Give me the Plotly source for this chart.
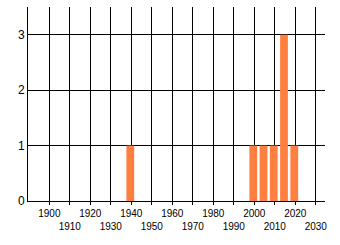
import plotly.graph_objects as go

years = [1940, 2000, 2005, 2010, 2015, 2020]
counts = [1, 1, 1, 1, 3, 1]
decades = list(range(1900, 2031, 10))
tick_labels = [str(d) if (d // 10) % 2 == 0 else "<br>" + str(d) for d in decades]

fig = go.Figure(go.Bar(
    x=years, y=counts, width=3.8, offset=-2.4,
    marker=dict(color="#FF7F40", line=dict(width=0)),
))

fig.update_layout(
    width=340, height=245,
    margin=dict(l=28, r=15, t=7, b=44),
    paper_bgcolor="white", plot_bgcolor="white",
    font=dict(family="Liberation Sans, Arial, sans-serif", size=10, color="#000"),
    showlegend=False,
)
fig.update_xaxes(
    range=[1889.6, 2034.5], tickmode="array", tickvals=decades, ticktext=tick_labels,
    showgrid=True, gridcolor="black", gridwidth=1, zeroline=False,
    showline=True, linecolor="black", linewidth=1,
    ticks="outside", ticklen=3, tickcolor="black", tickangle=0,
    tickfont=dict(size=10, color="#000"),
)
fig.update_yaxes(
    range=[0, 3.5], tickvals=[0, 1, 2, 3], showgrid=True, gridcolor="black", gridwidth=1,
    zeroline=False, showline=True, linecolor="black", linewidth=1,
    ticks="", tickfont=dict(size=12, color="#000"),
)
fig.write_html("out.html")
